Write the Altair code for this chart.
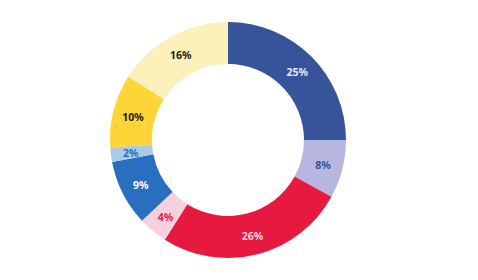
import altair as alt
import pandas as pd

values = [25, 8, 26, 4, 9, 2, 10, 16]
labels = ["25%", "8%", "26%", "4%", "9%", "2%", "10%", "16%"]
colors = ["#37539a", "#b6b6e0", "#e8193f", "#f8d0dd", "#2a6ec0", "#a9cbe9", "#fdd537", "#fdf1bb"]
text_colors = ["#e6e6f5", "#37539a", "#f8d0dd", "#e8193f", "#ffffff", "#2a6ec0", "#1a1a1a", "#1a1a1a"]

df = pd.DataFrame({
    "idx": list(range(len(values))),
    "value": values,
    "label": labels,
    "color": colors,
    "tcolor": text_colors,
})

base = alt.Chart(df).encode(
    theta=alt.Theta("value:Q", stack=True),
    order=alt.Order("idx:Q"),
    x=alt.value(228),
    y=alt.value(140),
)

arcs = base.mark_arc(outerRadius=118, innerRadius=76, stroke=None).encode(
    color=alt.Color("color:N", scale=None)
)

text = base.mark_text(radius=98, font="Noto Sans", fontSize=10.5, fontWeight="bold", dy=2).encode(
    text="label:N",
    color=alt.Color("tcolor:N", scale=None),
)

chart = (arcs + text).properties(
    width=478, height=280, padding=0, autosize=alt.AutoSizeParams(type="none")
).configure_view(stroke=None)

chart.save("out.html", embed_options={"renderer": "svg", "actions": False})
